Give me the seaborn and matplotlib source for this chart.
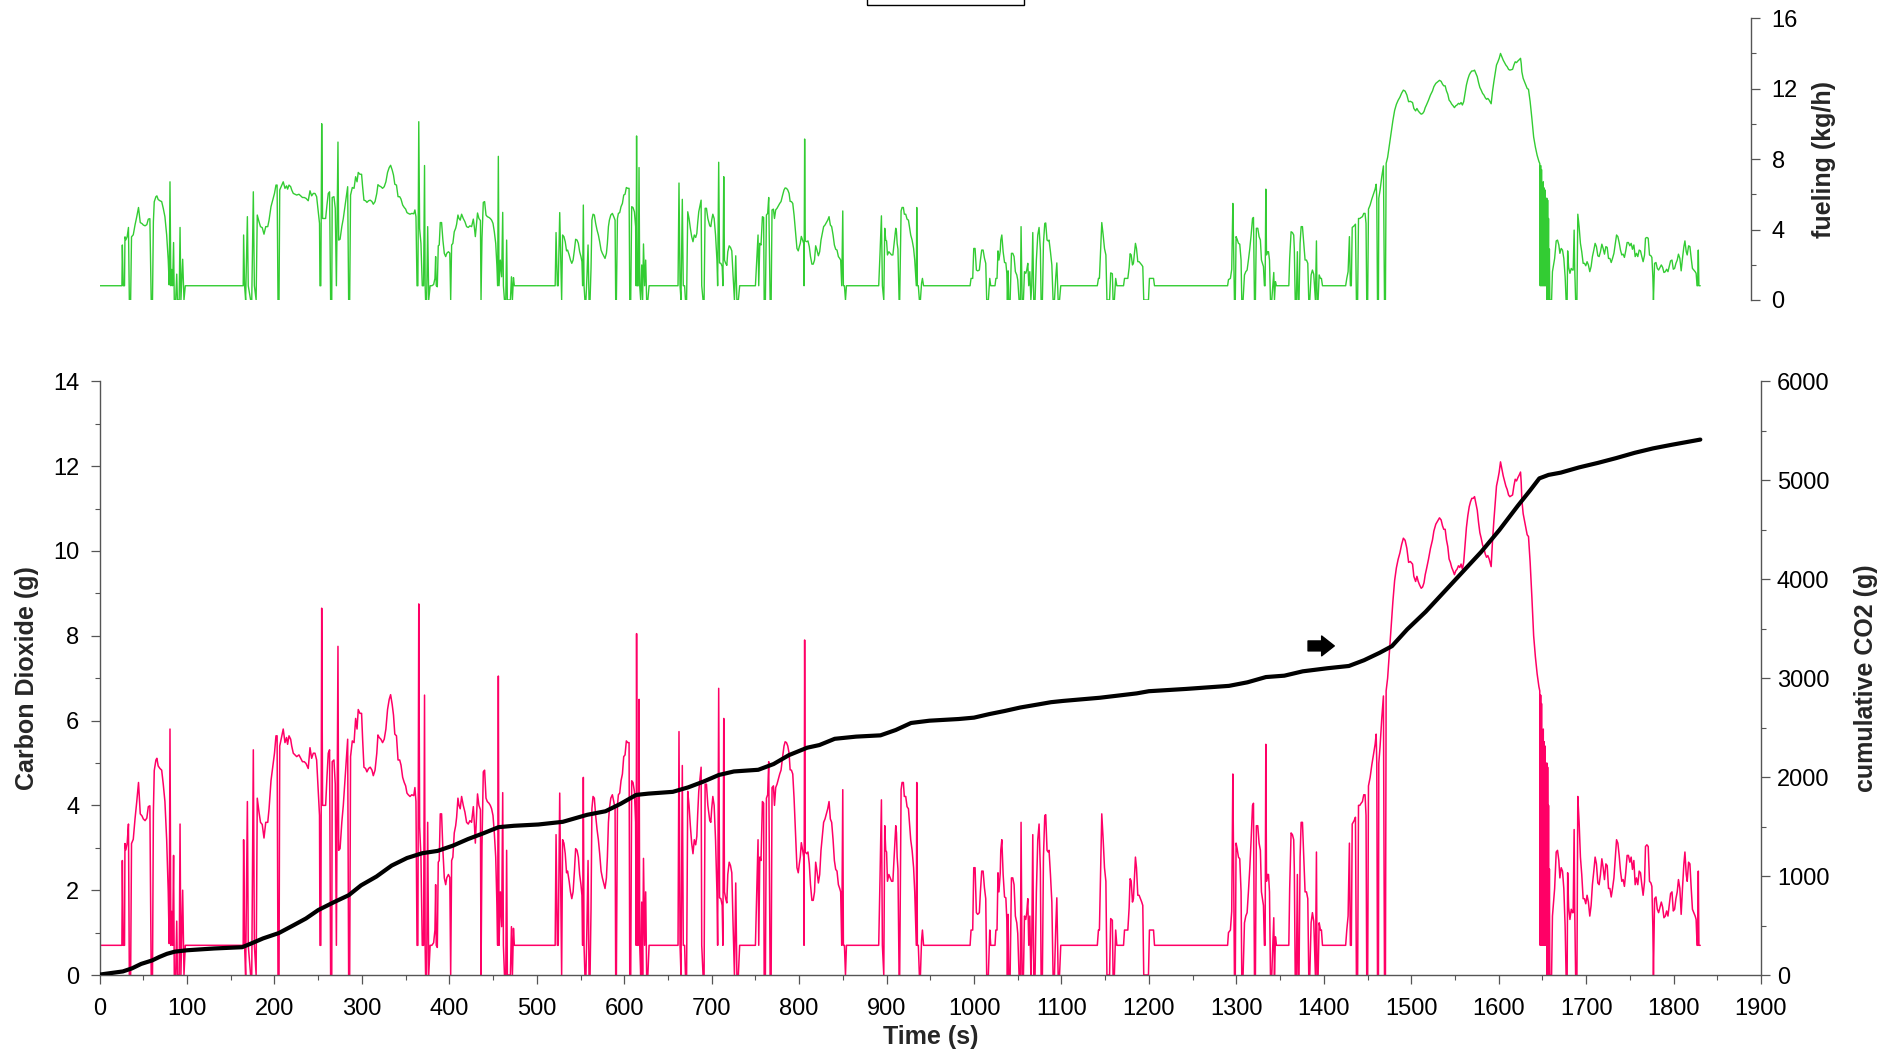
import numpy as np
import pandas as pd
import matplotlib
matplotlib.use("Agg")
import matplotlib.pyplot as plt
from matplotlib.ticker import MultipleLocator
from matplotlib.patches import Rectangle
import seaborn as sns

# ---------------- data: (time s, CO2 g) ----------------
CO2_SEG1 = [(0, 0.7), (25.5, 0.7), (26, 2.7), (27, 0.7), (28.5, 0.7), (29, 3.1), (30, 2.95), (31.5, 3.1),
            (33, 3.56), (34, 0), (35.5, 0), (36.5, 3.1), (38.5, 3.2), (40.5, 3.68), (42.5, 4.09), (44.5, 4.54),
            (46.5, 3.8), (48.5, 3.75), (50, 3.68), (52, 3.64), (54, 3.7), (55.7, 3.97), (57.5, 3.99), (59, 0),
            (60.5, 0), (61.5, 3.84), (62.5, 4.82), (64.4, 5.07), (65.5, 5.11), (67, 4.93), (69, 4.87), (71, 4.83),
            (72.8, 4.5), (74.7, 4.09), (76.7, 3.19), (78.5, 1.96), (79.6, 0.74), (80.5, 5.8), (81.5, 0.7),
            (82.5, 1.5), (83.5, 0.7), (84.6, 2.82), (85.4, 0), (87, 0), (88.2, 1.27), (89, 0), (91, 0), (92, 3.56),
            (93, 0), (95, 2.0), (96.5, 0), (98, 0.7), (162, 0.7)]
CO2_SEG2 = [(164.2, 0.7), (164.7, 3.19), (165.8, 0.7), (167, 0), (169, 4.09), (170, 0.7), (172.7, 0), (174, 0),
            (175.8, 5.31), (177, 0.7), (179, 0), (180.3, 4.17), (182.3, 3.84), (184, 3.6), (186, 3.55), (188, 3.23),
            (190, 3.6), (192.3, 3.6), (193.8, 3.92), (196, 4.58), (198, 4.9), (200, 5.23), (201.7, 5.64),
            (203, 5.64), (204, 0), (205.2, 0), (206, 5.4), (208, 5.6), (210, 5.8), (212, 5.48), (213.8, 5.6),
            (215, 5.44), (216.6, 5.64), (218.5, 5.56), (219.7, 5.4), (221.5, 5.23), (223.5, 5.19), (225.4, 5.15),
            (228, 5.19), (230, 5.11), (232, 5.03), (234, 5.03), (236, 4.99), (238.6, 4.87), (240.6, 5.36)]
CO2_SEG3 = [(242.5, 5.11), (244.4, 5.23), (246.3, 5.23), (248.2, 5.07), (250, 4.33), (251.5, 3.76), (252, 0.7),
            (253, 0.7), (254, 8.65), (255, 4.0), (257, 4.0), (258.5, 4.0), (260, 4.66), (261.5, 5.23), (263, 5.31),
            (264.2, 0), (265.5, 0), (266, 5.03), (268, 5.07), (269.5, 4.5), (270.8, 0.7), (272.6, 7.75),
            (273.4, 2.94), (275, 2.98), (277, 3.6), (278.7, 4.0), (280.6, 4.58), (282.5, 5.15), (283.7, 5.56),
            (284.8, 0), (286, 0), (287, 5.15), (289, 5.52), (291, 5.48), (292.8, 6.05), (294.4, 5.8),
            (295.8, 6.26), (297.7, 6.17), (299.6, 6.17), (300.8, 5.56), (302.3, 4.9), (304.2, 4.87),
            (305.7, 4.79), (307.6, 4.87), (309.5, 4.9), (311.5, 4.83), (313, 4.7), (315, 4.83), (317, 5.23),
            (318.3, 5.66), (319.8, 5.6), (321.7, 5.56), (323.6, 5.48), (325.5, 5.56), (327.4, 5.8), (329.3, 6.26),
            (331.2, 6.5), (332.8, 6.61), (334.6, 6.38), (336.1, 6.13), (337.6, 5.68), (339.5, 5.64), (341.3, 5.07),
            (343.2, 5.07), (344.7, 4.95), (346.6, 4.66), (348.4, 4.54), (350, 4.46), (351.5, 4.29), (353, 4.25),
            (355, 4.21), (357, 4.25), (359.3, 4.23), (360.6, 4.42), (361.8, 4.09), (363, 0.7), (364, 0.7),
            (365, 8.75), (366, 3.5), (367.5, 2.78), (369, 0.7), (370.5, 0.7), (371.6, 6.6), (372.3, 0.7),
            (372.8, 0), (374, 0), (375.2, 3.6), (376.4, 0), (378, 0.7), (380, 0.7), (382, 0.76), (383.5, 1.06),
            (384.3, 2.13), (385, 0.7), (386.2, 0.65), (387.3, 2.66), (388.4, 2.7), (389.6, 3.8), (391.1, 3.8),
            (392.6, 2.94), (394.2, 2.29), (395.8, 2.13), (397, 2.29), (398.9, 2.37), (400.5, 2.3), (401.5, 0),
            (402.6, 2.7), (404, 2.78), (405.6, 3.35), (407.2, 3.52), (408.3, 3.72), (409.8, 4.17), (411, 4.0),
            (412.4, 3.92), (414, 4.21), (415.9, 4.0), (417.8, 3.84), (419.7, 3.6), (421.6, 3.56), (423.5, 3.64),
            (425.4, 3.6), (427.4, 3.97), (428.5, 3.6), (429.7, 3.11), (432.2, 4.27), (433.8, 4.0), (435.5, 3.9),
            (436.2, 0), (437.3, 3.05), (438.8, 4.79), (440.3, 4.83), (441.9, 4.17), (443.4, 4.09), (445.3, 4.05),
            (446.8, 4.0), (448.3, 3.92), (449.9, 3.76), (451.4, 3.35), (453, 2.78), (454.4, 1.64), (455.2, 0.7),
            (456, 7.05), (456.8, 0.7), (458.3, 1.96), (459.8, 1.14), (461, 4.3), (461.8, 0.7), (463, 0),
            (464.5, 0), (465.5, 2.94), (466.3, 0), (469.8, 0), (471, 1.14), (472.1, 0), (473.3, 1.1),
            (474.3, 0.7), (521, 0.7)]
CO2_SEG4 = [(522, 3.31), (523.5, 0.7), (524.5, 0.7), (526.2, 4.29), (528.4, 0), (529.5, 3.19), (531, 3.11),
            (532.5, 2.86), (534, 2.41), (535.2, 2.45), (537, 2.21), (538.5, 1.96), (540, 1.8), (541.5, 1.96),
            (543, 2.45), (544.4, 2.98), (546, 2.94), (547.5, 2.78), (549, 2.37), (550.5, 2.13), (551.6, 1.88),
            (552.4, 0.7), (553.2, 4.66), (554, 0.7), (555, 0), (556.2, 0), (557.4, 1.23), (558.6, 2.7),
            (559.7, 0), (560.9, 0), (562, 1.55), (563, 3.92), (564.3, 4.21), (565.8, 4.17), (567.3, 3.76),
            (568.9, 3.43), (570.4, 3.19), (571.9, 2.86), (573.5, 2.45), (575, 2.29), (576.5, 2.17), (578, 2.04),
            (579.6, 2.29), (580.7, 2.78), (581.9, 3.6), (583, 3.92), (584.6, 4.17), (586.4, 4.25), (588, 4.09),
            (589.5, 3.92), (590.2, 0), (591, 0), (592.2, 4.0), (593.3, 4.25), (594.8, 4.29), (596.3, 4.58),
            (597.9, 4.74), (599.4, 5.15), (600.9, 5.19), (602.4, 5.52), (604, 5.48), (605.5, 5.48), (606.3, 0),
            (607.4, 0), (608.5, 4.58), (610, 4.54), (611.6, 4.33), (613, 3.6), (613.6, 0.7), (614.1, 8.05),
            (614.8, 0.7), (616, 0.7), (616.9, 6.5), (617.7, 0.7), (618.8, 0), (620, 1.72), (621, 0), (622, 2.75),
            (623.3, 0.7), (624.5, 1.96), (625.6, 0), (627, 0), (628.4, 0.7), (661.5, 0.7), (662.6, 5.74),
            (663.8, 0.7), (664.9, 0), (666.4, 4.94), (667.5, 0.7), (669, 0.7), (670, 0), (671.3, 0),
            (672.6, 4.33), (674.1, 4.0), (675.6, 3.52), (677.1, 3.11), (678.6, 2.86), (680.1, 3.19),
            (681.7, 3.07), (683, 3.27), (684, 3.8), (685.2, 4.33), (687.9, 4.9), (688.6, 0.7), (690.1, 0),
            (691.3, 0), (692.5, 4.5), (694, 4.5), (695.6, 4.0), (697.8, 3.64), (699, 3.6), (700, 3.92),
            (701.3, 4.21), (702.8, 4.0), (704.4, 3.19), (706, 1.96), (706.8, 0.7), (708, 6.76), (709, 1.82),
            (710.5, 1.8), (712, 1.64), (712.8, 0.7), (713.8, 6.05), (714.6, 1.96), (716, 1.8), (717.3, 1.7),
            (718.4, 2.37), (720, 2.66), (721.5, 2.58), (723, 2.41), (724.4, 1.23), (726, 0), (727.5, 2.17),
            (728.8, 0), (730.5, 0), (732, 0.7), (750, 0.7)]
CO2_SEG5 = [(751.5, 1.96), (753, 3.19), (753.8, 0.7), (755, 2.78), (756.4, 2.7), (758, 4.09), (759.4, 4.05),
            (760, 0), (761.4, 0), (762.6, 4.17), (764, 4.25), (765.2, 5.03), (766.8, 0), (768, 0), (769, 4.42),
            (770.6, 4.46), (771.8, 4.0), (773.2, 4.42), (774.7, 4.5), (776.2, 4.62), (777.8, 4.74), (779.3, 4.83),
            (780.9, 5.11), (782.7, 5.4), (784, 5.5), (785.5, 5.48), (787, 5.4), (788.5, 5.23), (789.7, 4.84),
            (791.2, 4.83), (792.7, 4.74), (794.2, 4.17), (796, 3.27), (797.5, 2.53), (799, 2.41), (800.2, 2.62),
            (801.3, 2.78), (802.5, 3.12), (804, 2.94), (805.2, 2.78), (805.6, 0.7), (806.3, 7.9), (807, 2.9),
            (808.6, 2.86), (810.1, 2.9), (811.6, 2.62), (813, 2.13), (814.6, 1.76), (816.1, 1.76), (817.6, 1.96),
            (818.9, 2.66), (820.4, 2.45), (822, 2.17), (823.5, 2.37), (825, 2.94), (826.5, 3.27), (828, 3.6),
            (829.6, 3.68), (831.1, 3.8), (832.7, 3.92), (834.2, 4.09), (835.7, 3.68), (837.2, 3.6), (838.8, 3.19),
            (840.3, 2.7), (841.8, 2.49), (843.3, 2.45), (844.9, 2.13), (846.4, 2.04), (847.5, 1.96), (848.7, 0.7),
            (849.9, 4.37), (850.6, 0.7), (851.8, 0.7), (853, 0), (854.1, 0.7), (891, 0.7), (892.5, 2.29),
            (894.1, 4.13), (895.2, 0.7), (896.8, 0), (897.9, 3.52), (899, 2.94), (900, 2.9), (901, 2.21),
            (902.6, 2.37), (904.2, 2.29), (905.7, 2.21), (907.2, 2.21), (909, 2.94), (910.5, 3.52), (911.3, 3.35),
            (912.1, 2.78), (913, 2.5), (914.3, 0), (915, 0), (916.6, 4.37), (917.7, 4.54), (919.2, 4.54),
            (920.3, 4.21), (921.9, 4.21), (923.4, 3.97), (925, 3.92), (926.1, 3.6), (927.6, 3.19), (929.2, 2.94),
            (930.9, 2.53), (932.2, 1.96), (933.3, 1.14), (934, 0.7), (934.5, 4.54), (935.2, 0.7), (936.3, 0.7),
            (937.5, 0), (938.7, 0), (940, 0.82), (941, 1.06), (942.3, 0.7), (995.5, 0.7)]
CO2_SEG6 = [(996.6, 1.06), (998.5, 1.06), (999.7, 2.53), (1001.2, 2.53), (1002.7, 1.47), (1004.2, 1.43),
            (1006.1, 1.47), (1007.3, 1.96), (1008.8, 2.45), (1010.4, 2.45), (1011.9, 2.06), (1013.4, 1.8),
            (1014.5, 0), (1016.4, 0), (1018, 1.06), (1019.1, 0.7), (1024, 0.7), (1025, 1.06), (1026.3, 1.06),
            (1027.4, 2.41), (1028.5, 1.96), (1030, 2.41), (1030.6, 2.94), (1031.8, 3.19), (1033.3, 2.37),
            (1034.9, 1.84), (1036.4, 1.82), (1037.5, 1.31), (1038.2, 0), (1039, 1.43), (1039.7, 0), (1041.3, 0),
            (1042.8, 2.29), (1044.3, 2.29), (1045.8, 2.13), (1047.3, 1.39), (1048.9, 1.23), (1050, 0.98),
            (1051.5, 0), (1053, 0), (1053.8, 3.6), (1055, 0), (1056.5, 0), (1057.7, 1.39), (1059.2, 1.31),
            (1060.3, 1.47), (1061.5, 1.8), (1062.6, 0.7), (1063.8, 1.39), (1065, 0), (1066, 0.7), (1067.2, 3.31),
            (1068.3, 0), (1069.8, 0), (1071.3, 1.96), (1072.9, 3.19), (1074.4, 3.56), (1075.9, 2.45),
            (1076.7, 0), (1078.2, 0), (1079.4, 2.78), (1080.9, 3.76), (1082, 3.78), (1083.5, 2.94),
            (1084.7, 2.9), (1085.8, 2.94), (1087.4, 2.37), (1089, 1.72), (1090.4, 0), (1092, 0), (1093.5, 1.14),
            (1094.7, 1.82), (1096.2, 0), (1097.8, 0), (1099.2, 0.7), (1141, 0.7), (1142.3, 1.06), (1143.4, 1.06),
            (1144.9, 2.53), (1146.1, 3.8), (1147.7, 3.19), (1149.2, 2.53), (1150.8, 2.21), (1152, 0), (1155, 0),
            (1156.3, 1.33), (1158.2, 1.29), (1159, 0), (1160.5, 0), (1162, 1.06), (1163.3, 0.7), (1171, 0.7),
            (1172.1, 1.06), (1175.9, 1.06), (1177.4, 1.59), (1178.5, 2.27), (1179.7, 2.22), (1181.2, 1.72),
            (1182.3, 1.8), (1183.5, 2.29), (1184.6, 2.78), (1185.8, 2.53), (1187.3, 1.88), (1188.8, 1.88),
            (1190.3, 1.8), (1191.8, 1.72), (1193, 1.64), (1194.1, 0), (1199.5, 0), (1200.6, 1.06),
            (1205.3, 1.06), (1206.4, 0.7), (1290, 0.7)]
CO2_SEG7 = [(1291, 1.0), (1293.2, 1.06), (1294.7, 1.5), (1296, 4.74), (1296.8, 2.78), (1297.8, 0), (1298.8, 0),
            (1299.7, 3.11), (1300.9, 2.98), (1302.4, 2.78), (1303.9, 2.74), (1305.4, 1.96), (1306.2, 0),
            (1307.7, 0), (1309.3, 1.23), (1310.8, 1.39), (1312.3, 1.47), (1313.8, 1.96), (1315.4, 2.53),
            (1316.9, 3.19), (1318.5, 4.0), (1319.6, 4.05), (1320.7, 0), (1321.8, 0), (1322.9, 3.52),
            (1324.5, 3.52), (1326, 3.11), (1327.5, 2.94), (1328.7, 1.96), (1329.8, 1.8), (1331, 1.64),
            (1332.1, 0.7), (1332.9, 0.7), (1333.7, 5.44), (1334.5, 2.21), (1335.6, 2.37), (1336.8, 2.37),
            (1337.9, 1.96), (1339, 0), (1340.5, 0), (1341.7, 0.7), (1342.8, 1.35), (1343.6, 0), (1344.7, 0.9),
            (1345.8, 0.7), (1360, 0.7), (1361, 2.04), (1362.6, 3.35), (1364.1, 3.31), (1365.6, 3.19),
            (1366.3, 2.5), (1367.3, 0), (1368.6, 0), (1369.8, 2.37), (1370.6, 0), (1371.7, 0), (1372.9, 2.78),
            (1374.1, 3.6), (1375.6, 3.6), (1377.1, 2.78), (1378.6, 1.96), (1380.2, 1.96), (1381.7, 1.8),
            (1382.8, 0), (1384, 0), (1385.5, 1.23), (1387, 1.47), (1388.5, 1.27), (1389.3, 0.7), (1390.4, 0),
            (1391.6, 2.9), (1392.3, 0), (1393.5, 0), (1394.7, 1.23), (1396.2, 1.06), (1397.3, 1.06),
            (1398.5, 0.7), (1425, 0.7), (1426.3, 1.06), (1427.8, 1.39), (1429.3, 3.11), (1430.4, 0.7),
            (1431.5, 0.7), (1432.5, 3.56), (1434.7, 3.64), (1436.2, 3.72), (1437.3, 0), (1438.7, 0)]
CO2_SEG8 = [(1439.7, 4.0), (1441.2, 4.0), (1442.7, 4.05), (1444.2, 4.09), (1445.7, 4.25), (1447.2, 4.25),
            (1448.3, 3.76), (1449.1, 0), (1450.2, 0), (1451.1, 4.46), (1453, 4.66), (1454.9, 4.95),
            (1456.8, 5.19), (1458.7, 5.44), (1459.9, 5.68), (1460.6, 5.0), (1461.4, 0), (1462.5, 0),
            (1462.9, 4.99), (1464.4, 5.4), (1466.3, 6.05), (1468.2, 6.58), (1469.4, 0), (1470.5, 0),
            (1471.3, 6.7), (1473, 7.0), (1475, 7.6), (1477, 8.2), (1479, 8.8), (1481, 9.3), (1483, 9.6),
            (1485, 9.8), (1487, 9.95), (1489, 10.15), (1491, 10.3), (1493, 10.25), (1495, 10.06), (1497, 9.73),
            (1499, 9.75), (1501.5, 9.69), (1503, 9.4), (1505, 9.28), (1506.5, 9.4), (1508, 9.28), (1509.5, 9.2),
            (1511.4, 9.12), (1513, 9.15), (1514.6, 9.25), (1516, 9.44), (1517.4, 9.57), (1519.7, 9.8),
            (1522, 10.06), (1524.3, 10.26), (1525.9, 10.47), (1528.1, 10.63), (1530.4, 10.71), (1532.3, 10.78),
            (1534.2, 10.73), (1535.8, 10.59), (1537.2, 10.51), (1538.8, 10.51), (1540.3, 10.26), (1541.8, 10.1),
            (1543.3, 9.81), (1544.8, 9.73), (1546.3, 9.61), (1547.9, 9.53), (1549.4, 9.44), (1550.9, 9.53),
            (1552.4, 9.57), (1554, 9.65), (1555.5, 9.61), (1557, 9.69), (1558.5, 9.57), (1560, 9.73),
            (1561.6, 10.14), (1563.1, 10.55), (1564.7, 10.83), (1566.3, 11.04), (1567.8, 11.16), (1569.3, 11.24),
            (1570.9, 11.24), (1572.4, 11.28), (1573.9, 11.12), (1575.5, 10.96), (1577, 10.67), (1578.5, 10.43),
            (1580, 10.3), (1581.6, 10.14), (1583.1, 10.06), (1584.6, 9.93), (1586.1, 9.85), (1587.6, 9.89),
            (1589.1, 9.81), (1590.6, 9.69), (1591.4, 9.63), (1592.9, 10.22), (1594.5, 10.71), (1596, 11.12),
            (1597.5, 11.53), (1599.1, 11.69), (1600.6, 11.86), (1602.1, 12.1), (1603.6, 11.94), (1605.2, 11.77),
            (1606.7, 11.65), (1608.2, 11.53), (1609.7, 11.45), (1611.3, 11.32), (1612.8, 11.28), (1614.3, 11.3),
            (1615.9, 11.32), (1617.4, 11.53), (1618.9, 11.69), (1620.4, 11.65), (1622, 11.73), (1623.5, 11.79),
            (1625, 11.86), (1625.8, 11.6), (1626.5, 11.2), (1628, 10.88), (1629.6, 10.71), (1631.1, 10.55),
            (1632.6, 10.38), (1634.1, 10.34), (1636, 9.73), (1638, 8.9), (1640, 8.0), (1642, 7.5), (1644, 7.1),
            (1646, 6.8), (1647, 6.7), (1647.5, 0.7), (1648, 6.6), (1648.5, 0.7), (1649, 6.4), (1649.5, 0.7),
            (1650, 5.6), (1650.5, 0.7), (1651, 5.8), (1651.5, 0.7), (1652, 5.5), (1652.5, 0.7), (1653, 5.4),
            (1653.5, 0.7), (1654, 4.9), (1654.5, 0.7), (1655, 5.0), (1655.5, 0), (1656, 4.9), (1656.5, 0.7),
            (1657, 4.0), (1657.5, 0), (1658, 2.5), (1658.5, 0), (1660.5, 0)]
CO2_SEG9 = [(1661.5, 1.39), (1663, 1.8), (1664, 2.04), (1665, 2.5), (1665.8, 2.9), (1667.3, 2.94), (1668.8, 2.7),
            (1670, 2.29), (1671.5, 2.53), (1673, 2.45), (1674.5, 2.04), (1676, 1.14), (1677.1, 0), (1678.3, 0),
            (1678.9, 2.41), (1680, 1.6), (1681.5, 1.31), (1683, 1.55), (1684.5, 1.47), (1685.2, 1.47),
            (1686.3, 3.43), (1687, 1.5), (1688, 0), (1689.5, 0), (1690.5, 4.21), (1692, 3.6), (1693.5, 2.78),
            (1695, 2.37), (1696.6, 1.8), (1698.1, 1.8), (1699.6, 1.68), (1701.1, 1.88), (1702.6, 1.72),
            (1704.2, 1.39), (1705.7, 1.64), (1707.2, 2.13), (1708.8, 2.45), (1710.3, 2.78), (1711.8, 2.62),
            (1713.4, 2.17), (1714.9, 2.13), (1716.4, 2.37), (1718, 2.74), (1719.5, 2.53), (1721, 2.25),
            (1722.6, 2.62), (1724.1, 2.58), (1725.6, 2.04), (1727.2, 2.04), (1728.7, 1.84), (1730.2, 2.04),
            (1731.8, 2.29), (1733.2, 2.7), (1734.8, 3.19), (1736.3, 3.11), (1737.8, 2.82), (1739.3, 2.45),
            (1740.8, 2.21), (1742.3, 2.25), (1743.8, 2.09), (1745.3, 2.41), (1746.9, 2.82), (1748.4, 2.82),
            (1750, 2.66), (1751.5, 2.78), (1753, 2.49), (1754.6, 2.7), (1756.1, 2.13), (1757.6, 2.29),
            (1759.1, 2.13), (1760.7, 2.45), (1762.2, 2.41), (1763.7, 2.13), (1765.2, 1.88), (1766.8, 2.2),
            (1767.9, 3.03), (1769.5, 3.07), (1771, 3.03), (1772.5, 2.21), (1774.1, 2.17), (1775.2, 2.09),
            (1776.3, 1.14), (1777, 0), (1778.3, 1.8), (1779.9, 1.84), (1781.4, 1.55), (1782.9, 1.47),
            (1784.5, 1.6), (1786, 1.72), (1787.5, 1.6), (1789, 1.35), (1790.6, 1.39), (1792.1, 1.51),
            (1793.6, 1.39), (1795, 1.64), (1796.6, 1.92), (1798.2, 1.96), (1799.7, 1.51), (1801.2, 1.55),
            (1802.7, 1.8), (1804.2, 1.96), (1805.6, 2.25), (1807.2, 2.04), (1808.7, 1.43), (1810.2, 2.04),
            (1811.8, 2.62), (1813, 2.9), (1814.5, 2.37), (1815.6, 2.21), (1817.2, 2.66), (1818.7, 2.62),
            (1820.2, 2.04), (1821.6, 1.55), (1823.1, 1.47), (1824.7, 1.39), (1825.8, 1.31), (1826.9, 0.7),
            (1827.5, 0.7), (1828.3, 2.45), (1829, 0.7), (1830.5, 0.7)]

# cumulative CO2 (g)
CUMULATIVE = [(0, 4), (26.6, 36), (37, 67), (47.5, 112), (60, 147), (68.5, 183), (77, 214), (86, 236), (100, 250),
              (131, 268), (163, 281), (173, 317), (187, 370), (205, 424), (222, 504), (236, 571), (250, 656),
              (268, 736), (285, 807), (299, 906), (316.6, 995), (334, 1106), (351.5, 1182), (369, 1231),
              (386.5, 1254), (404, 1307), (421.4, 1374), (438.8, 1432), (456.3, 1494), (473.8, 1508),
              (501.7, 1521), (529.7, 1548), (557.6, 1619), (578.6, 1655), (596, 1731), (613.6, 1820),
              (627.5, 1833), (655.5, 1851), (673, 1896), (690.4, 1954), (708, 2021), (725.4, 2057),
              (753.3, 2074), (770.8, 2132), (788.3, 2222), (809.2, 2297), (823.2, 2324), (840.7, 2387),
              (865.1, 2409), (893, 2422), (910.5, 2476), (928, 2547), (949, 2570), (982.5, 2587), (1000, 2601),
              (1017.6, 2637), (1035, 2668), (1052.7, 2703), (1073.8, 2735), (1088, 2757), (1102, 2770),
              (1144, 2802), (1165, 2824), (1186, 2846), (1200, 2868), (1242.4, 2891), (1291.6, 2922),
              (1312.7, 2958), (1333.8, 3011), (1354.9, 3025), (1376, 3069), (1404, 3100), (1428.7, 3123),
              (1446, 3181), (1463.8, 3256), (1477.9, 3323), (1495.4, 3493), (1516.5, 3671), (1537.6, 3872),
              (1558.7, 4073), (1579.8, 4274), (1600.8, 4497), (1621.9, 4742), (1636, 4898), (1646.5, 5019),
              (1657, 5054), (1671, 5077), (1692, 5130), (1713.3, 5175), (1734.4, 5224), (1755.4, 5277),
              (1776.5, 5322), (1797.6, 5358), (1830.6, 5411)]

# fuel rate (kg/h) per CO2 rate (peak 14.0 vs 12.1, idle 0.81 vs 0.70)
FUEL_PER_CO2 = 1.157

X_TICKS = list(range(0, 2000, 100))
CO2_TICKS = [0, 2, 4, 6, 8, 10, 12, 14]
CUM_TICKS = [0, 1000, 2000, 3000, 4000, 5000, 6000]
FUEL_TICKS = [0, 4, 8, 12, 16]

# ---------------- frame ----------------
co2_df = pd.DataFrame(CO2_SEG1 + CO2_SEG2 + CO2_SEG3 + CO2_SEG4 + CO2_SEG5 + CO2_SEG6 + CO2_SEG7
                      + CO2_SEG8 + CO2_SEG9, columns=["time", "co2"])
co2_df["fuel"] = co2_df["co2"] * FUEL_PER_CO2
cum_df = pd.DataFrame(CUMULATIVE, columns=["time", "cum"])

sns.set_style("ticks")
NARROW = ["Liberation Sans Narrow", "Liberation Sans", "DejaVu Sans"]
BOLD = ["Liberation Sans", "DejaVu Sans"]
plt.rcParams["font.family"] = NARROW

W, H = 1904, 1053
fig = plt.figure(figsize=(W / 100, H / 100), dpi=100)
fig.patch.set_facecolor("white")

AX_L, AX_R = 99.6, 1761.0
BOT_T, BOT_B = 381.3, 975.0
TOP_T, TOP_B = 18.2, 300.0
XMAX, TOP_XMAX = 1900, 1889

ax = fig.add_axes([AX_L / W, 1 - BOT_B / H, (AX_R - AX_L) / W, (BOT_B - BOT_T) / H])
ax2 = ax.twinx()
top_w = (AX_R - AX_L) * TOP_XMAX / XMAX
axt = fig.add_axes([AX_L / W, 1 - TOP_B / H, top_w / W, (TOP_B - TOP_T) / H])

RED = "#FF0066"
GREEN = "#33CC33"
SPINE = "#555555"

sns.lineplot(data=co2_df, x="time", y="co2", ax=ax, color=RED, linewidth=1.1,
             estimator=None, sort=False, legend=False)
sns.lineplot(data=cum_df, x="time", y="cum", ax=ax2, color="black", linewidth=3.0,
             estimator=None, sort=False, legend=False)
sns.lineplot(data=co2_df, x="time", y="fuel", ax=axt, color=GREEN, linewidth=1.0,
             estimator=None, sort=False, legend=False)

# bottom axes
ax.set_xlim(0, XMAX)
ax.set_ylim(0, 14)
ax2.set_ylim(0, 6000)
ax.set_xticks(X_TICKS)
ax.xaxis.set_minor_locator(MultipleLocator(50))
ax.set_yticks(CO2_TICKS)
ax.yaxis.set_minor_locator(MultipleLocator(1))
ax2.set_yticks(CUM_TICKS)
ax2.yaxis.set_minor_locator(MultipleLocator(500))

for a in (ax, ax2, axt):
    for s in a.spines.values():
        s.set_color(SPINE)
        s.set_linewidth(1.0)
    a.grid(False)
    a.set_facecolor("none")

ax.spines["top"].set_visible(False)
ax.spines["right"].set_visible(False)
ax2.spines["top"].set_visible(False)
ax2.spines["left"].set_visible(False)
ax2.spines["bottom"].set_visible(False)

common = dict(direction="out", color=SPINE, labelcolor="black", labelsize=17)
ax.tick_params(axis="x", which="major", length=6.5, width=0.9, pad=10, **common)
ax.tick_params(axis="x", which="minor", length=3.5, width=0.8, direction="out", color=SPINE)
ax.tick_params(axis="y", which="major", length=6.5, width=0.9, pad=8, **common)
ax.tick_params(axis="y", which="minor", length=3.5, width=0.8, direction="out", color=SPINE)
ax2.tick_params(axis="y", which="major", length=6.5, width=0.9, pad=5, **common)
ax2.tick_params(axis="y", which="minor", length=3.5, width=0.8, direction="out", color=SPINE)

ax.set_xlabel("Time (s)", fontsize=18, fontweight="bold", family=BOLD)
ax.xaxis.label.set_va("center")
ax.xaxis.set_label_coords(0.5, (BOT_B - 1037) / (BOT_B - BOT_T))
ax.set_ylabel("Carbon Dioxide (g)", fontsize=18, fontweight="bold", family=BOLD)
ax.yaxis.label.set_va("center")
ax.yaxis.set_label_coords((27 - AX_L) / (AX_R - AX_L), 0.5)
ax2.set_ylabel("cumulative CO2 (g)", fontsize=18, fontweight="bold", family=BOLD, rotation=90)
ax2.yaxis.label.set_va("center")
ax2.yaxis.set_label_coords((1866 - AX_L) / (AX_R - AX_L), 0.5)

# top axes (fueling)
axt.set_xlim(0, TOP_XMAX)
axt.set_ylim(0, 16)
axt.set_xticks([])
axt.set_xlabel("")
axt.yaxis.tick_right()
axt.yaxis.set_label_position("right")
axt.set_yticks(FUEL_TICKS)
axt.yaxis.set_minor_locator(MultipleLocator(2))
axt.spines["top"].set_visible(False)
axt.spines["left"].set_visible(False)
axt.spines["bottom"].set_visible(False)
axt.tick_params(axis="y", which="major", length=6.5, width=0.9, pad=8, **common)
axt.tick_params(axis="y", which="minor", length=3.5, width=0.8, direction="out", color=SPINE)
axt.set_ylabel("fueling (kg/h)", fontsize=18, fontweight="bold", family=BOLD, rotation=90)
axt.yaxis.label.set_va("center")
axt.yaxis.set_label_coords((1824 - AX_L) / top_w, 0.5)

# block arrow near the knee of the cumulative curve
ARROW_FROM, ARROW_TO, ARROW_Y = 1382, 1412, 7.76
ax.annotate("", xy=(ARROW_TO, ARROW_Y), xytext=(ARROW_FROM, ARROW_Y),
            arrowprops=dict(arrowstyle="simple,head_length=0.7,head_width=1.1,tail_width=0.55",
                            fc="black", ec="black", mutation_scale=13, shrinkA=0, shrinkB=0))

# clipped legend frame at the top edge
fig.add_artist(Rectangle((867 / W, 1 - 5 / H), 157 / W, 0.05, transform=fig.transFigure,
                         fill=False, ec="black", lw=1.0))

fig.savefig("out.png", dpi=100, facecolor="white")
